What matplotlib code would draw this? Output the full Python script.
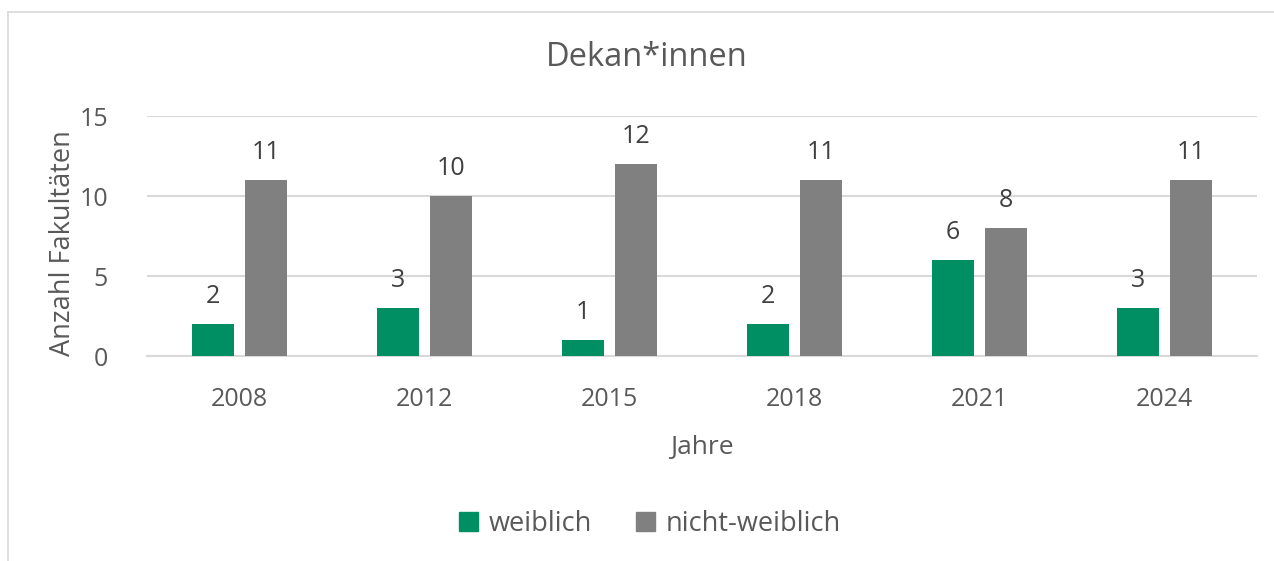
import matplotlib
matplotlib.use("Agg")
import matplotlib.pyplot as plt
import numpy as np
from matplotlib.lines import Line2D
from matplotlib.patches import Patch

years = ['2008', '2012', '2015', '2018', '2021', '2024']
weiblich = [2, 3, 1, 2, 6, 3]
nicht_weiblich = [11, 10, 12, 11, 8, 11]

GREEN = '#008f63'
GRAY = '#808080'
TEXT = '#595959'

plt.rcParams['font.family'] = ['Open Sans', 'DejaVu Sans']

fig = plt.figure(figsize=(12.74, 5.61), dpi=100)
ax = fig.add_axes([147 / 1274, 1 - 356 / 561, 1110 / 1274, 240 / 561])

x = np.arange(len(years))
w = 0.227
off = 0.143
b1 = ax.bar(x - off, weiblich, w, color=GREEN, label='weiblich', zorder=3)
b2 = ax.bar(x + off, nicht_weiblich, w, color=GRAY, label='nicht-weiblich', zorder=3)

for bars in (b1, b2):
    for bar in bars:
        ax.annotate(f'{int(bar.get_height())}',
                    (bar.get_x() + bar.get_width() / 2, bar.get_height()),
                    xytext=(0, 11), textcoords='offset points',
                    ha='center', va='bottom', fontsize=18, color='#404040')

ax.set_xlim(-0.5, len(years) - 0.5)
ax.set_ylim(0, 15)
ax.set_yticks([0, 5, 10, 15])
ax.set_xticks(x)
ax.set_xticklabels(years)
ax.tick_params(axis='both', length=0, labelsize=18, colors=TEXT)
ax.tick_params(axis='x', pad=22)
ax.tick_params(axis='y', pad=28)
ax.grid(axis='y', color='#d9d9d9', linewidth=1.5, zorder=0)
for s in ['top', 'right', 'left']:
    ax.spines[s].set_visible(False)
ax.spines['bottom'].set_color('#d9d9d9')
ax.spines['bottom'].set_linewidth(1.5)

ax.set_xlabel('Jahre', fontsize=19, color=TEXT, labelpad=17)
fig.text(63 / 1274, 1 - 243 / 561, 'Anzahl Fakultäten', fontsize=19.5, color=TEXT,
         ha='center', va='center', rotation=90)
fig.text(647 / 1274, 1 - 57 / 561, 'Dekan*innen', fontsize=23.5, color=TEXT,
         ha='center', va='center')

handles = [Patch(color=GREEN, label='weiblich'), Patch(color=GRAY, label='nicht-weiblich')]
fig.legend(handles=handles, loc='center', bbox_to_anchor=(650 / 1274, 1 - 524 / 561),
           ncol=2, frameon=False, fontsize=19.5, handlelength=0.7, handleheight=0.7,
           handletextpad=0.4, columnspacing=1.6, labelcolor=TEXT)

# chart border (left and top only visible)
fig.add_artist(Line2D([8 / 1274, 8 / 1274], [0, 1 - 12 / 561], color='#d9d9d9', lw=1.2))
fig.add_artist(Line2D([8 / 1274, 1], [1 - 12 / 561, 1 - 12 / 561], color='#d9d9d9', lw=1.2))

fig.savefig('out.png', dpi=100)
